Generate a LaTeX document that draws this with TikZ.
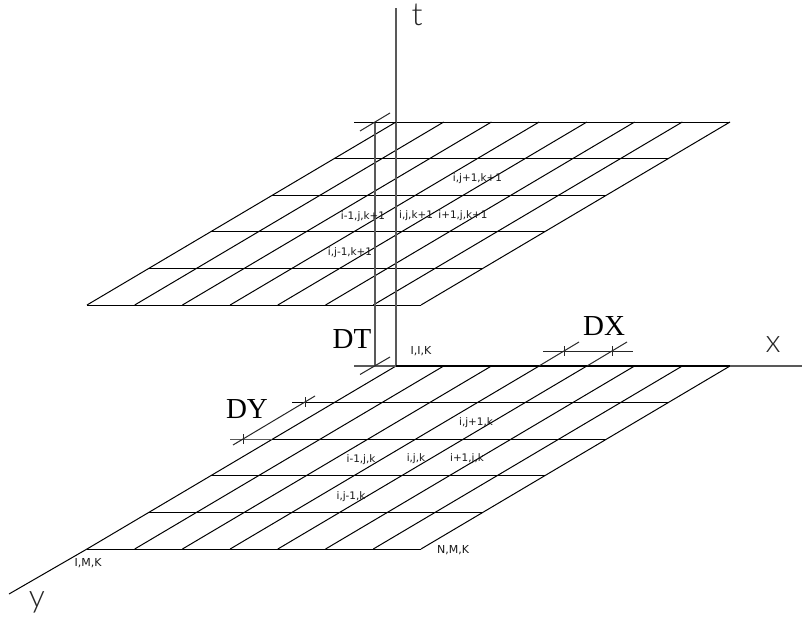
\documentclass[tikz,border=0pt]{standalone}
\usepackage{fontspec}
\setmainfont{Liberation Serif}
\newfontfamily\cadfont{DejaVu Sans}
\newfontfamily\axisfont{Lato Light}
\begin{document}
\begin{tikzpicture}[x=1pt,y=-1pt,
  gridline/.style={line width=1pt,black},
  axisline/.style={line width=1.2pt,black!65},
  heavyline/.style={line width=2pt,black},
  dimline/.style={line width=1pt,black!85},
  smalllabel/.style={font=\cadfont\fontsize{10.4}{10}\selectfont,inner sep=0pt,text=black!90},
  capslabel/.style={font=\cadfont\fontsize{11}{10}\selectfont,inner sep=0pt,text=black!90},
  axislabel/.style={font=\axisfont\fontsize{32}{32}\selectfont,inner sep=0pt,text=black!85},
  dimlabel/.style={font=\fontsize{29}{29}\selectfont,inner sep=0pt,text=black}]
\useasboundingbox (0,0) rectangle (802,618);
\fill[white] (0,0) rectangle (802,618);
% planes
\foreach \dy in {0,-244}{
  \foreach \i in {0,...,7}{
    \draw[gridline] ({396+\i*47.714},{366+\dy}) -- ({87+\i*47.714},{549+\dy});
  }
  \foreach \j in {0,...,5}{
    \draw[gridline] ({396-\j*61.8},{366+\j*36.6+\dy}) -- ({730-\j*61.8},{366+\j*36.6+\dy});
  }
}
% axes
\coordinate (O) at (396,366);
\coordinate (tend) at (396,8);
\coordinate (xend) at (802,366);
\coordinate (ystart) at (87,549);
\coordinate (yend) at (9,594);
\draw[axisline] (O) -- (tend);
\draw[axisline] (730,366) -- (xend);
\draw[gridline] (ystart) -- (yend);
\draw[heavyline] (O) -- (730,366);
% DT dimension
\coordinate (dtT) at (375,122);
\coordinate (dtB) at (375,366);
\draw[axisline] (dtT) -- (dtB);
\draw[gridline] (354,122) -- (396,122);
\draw[axisline] (354,366) -- (396,366);
\draw[dimline] (360,131) -- (390,113);
\draw[dimline] (360,374.5) -- (390,357);
% DX dimension
\draw[dimline] (543,351) -- (633,351);
\draw[dimline] (539,366) -- (579,342);
\draw[dimline] (587,366) -- (627,342);
\draw[dimline] (564,346) -- (564,356);
\draw[dimline] (612,346) -- (612,356);
% DY dimension
\draw[gridline] (292,402.6) -- (334,402.6);
\draw[axisline] (230,439.2) -- (272,439.2);
\draw[dimline] (233,445) -- (315,396);
\draw[dimline] (243,434) -- (243,444);
\draw[dimline] (305,397) -- (305,407);
% labels
\node[axislabel] (tlab) at (417,15) {t};
\node[axislabel] (xlab) at (773,345) {x};
\node[axislabel] (ylab) at (37,602) {y};
\node[dimlabel] (dt) at (352,339) {DT};
\node[dimlabel] (dx) at (604,326) {DX};
\node[dimlabel] (dy) at (247,409) {DY};
\node[smalllabel] (a1) at (477.5,179) {i,j+1,k+1};
\node[smalllabel] (a2) at (363,217) {i-1,j,k+1};
\node[smalllabel] (a3) at (416,215.5) {i,j,k+1};
\node[smalllabel] (a4) at (463,216) {i+1,j,k+1};
\node[smalllabel] (a5) at (350,253) {i,j-1,k+1};
\node[smalllabel] (b1) at (476,423) {i,j+1,k};
\node[smalllabel] (b2) at (361,460) {i-1,j,k};
\node[smalllabel] (b3) at (416,459) {i,j,k};
\node[smalllabel] (b4) at (467,459) {i+1,j,k};
\node[smalllabel] (b5) at (351,497) {i,j-1,k};
\node[capslabel] (c1) at (421,351.5) {I,I,K};
\node[capslabel] (c2) at (88,563.5) {I,M,K};
\node[capslabel] (c3) at (453,550.5) {N,M,K};
\end{tikzpicture}
\end{document}
